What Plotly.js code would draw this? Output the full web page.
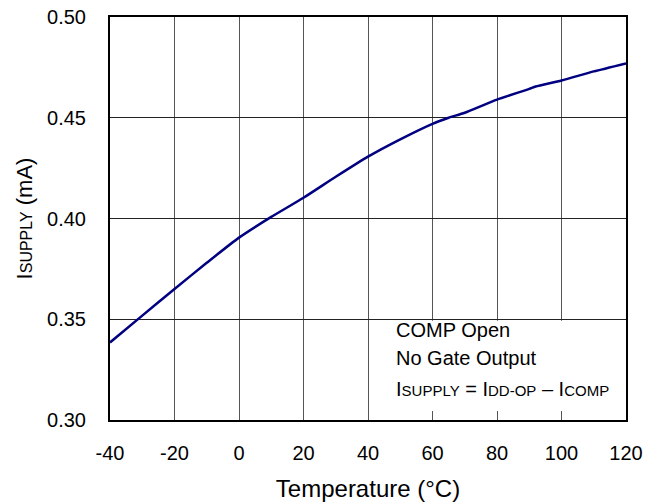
<!DOCTYPE html>
<html>
<head>
<meta charset="utf-8">
<script src="https://cdn.plot.ly/plotly-3.0.1.min.js"></script>
<style>html,body{margin:0;padding:0;background:#fff;}#chart{width:645px;height:502px;}</style>
</head>
<body>
<div id="chart"></div>
<script>
// Data
var temperature = [-40, -30, -20, -10, 0, 10, 20, 30, 40, 50, 60, 65, 70, 80, 90, 92, 100, 110, 120];
var supplyCurrent = [0.3385, 0.3518, 0.3650, 0.3780, 0.3905, 0.4008, 0.4103, 0.4207, 0.4307, 0.4393, 0.4470, 0.4500, 0.4525, 0.4590, 0.4643, 0.4655, 0.4685, 0.4730, 0.4770];
var xTicks = [-40, -20, 0, 20, 40, 60, 80, 100, 120];
var xTickLabels = ["-40", "-20", "0", "20", "40", "60", "80", "100", "120"];
var yTicks = [0.30, 0.35, 0.40, 0.45, 0.50];
var yTickLabels = ["0.30", "0.35", "0.40", "0.45", "0.50"];
var noteLines = ["COMP Open", "No Gate Output",
  "I<span style=\"font-size:15px\">SUPPLY</span> = I<span style=\"font-size:15px\">DD-OP</span> \u2013 I<span style=\"font-size:15px\">COMP</span>"];

var font = "Liberation Sans, Arial, sans-serif";

var trace = {
  x: temperature, y: supplyCurrent, type: "scatter", mode: "lines",
  line: {color: "#000080", width: 2.5, shape: "spline", smoothing: 0.6},
  hoverinfo: "skip", showlegend: false
};

var annotations = noteLines.map(function (t, i) {
  return {
    xref: "paper", yref: "paper", x: 0.55, y: [0.224, 0.155, 0.078][i],
    xanchor: "left", yanchor: "middle", text: t, showarrow: false,
    font: {family: font, size: 20, color: "#000"}
  };
});

var layout = {
  width: 645, height: 502,
  margin: {l: 110, r: 19, t: 17, b: 82},
  paper_bgcolor: "#fff", plot_bgcolor: "#fff",
  font: {family: font, color: "#000"},
  xaxis: {
    range: [-40, 120], tickvals: xTicks, ticktext: xTickLabels, ticks: "", showgrid: true,
    gridcolor: "#555", gridwidth: 1, zeroline: false,
    showline: true, linecolor: "#000", linewidth: 2, mirror: true,
    tickfont: {family: font, size: 20, color: "#000"}, ticklabelstandoff: 14,
    title: {text: "Temperature (\u00b0C)", font: {family: font, size: 24, color: "#000"}, standoff: 18}
  },
  yaxis: {
    range: [0.30, 0.50], tickvals: yTicks, ticktext: yTickLabels, ticks: "", showgrid: true,
    gridcolor: "#222", gridwidth: 1, zeroline: false,
    showline: true, linecolor: "#000", linewidth: 2, mirror: true,
    tickfont: {family: font, size: 20, color: "#000"}, ticklabelstandoff: 18,
    title: {text: "I<span style=\"font-size:16px\">SUPPLY</span> (mA)", font: {family: font, size: 22, color: "#000"}, standoff: 8}
  },
  shapes: [{
    type: "rect", layer: "between", xref: "x", yref: "y",
    x0: 41.5, x1: 119.5, y0: 0.3045, y1: 0.3493,
    fillcolor: "#fff", line: {width: 0}
  }],
  annotations: annotations
};

Plotly.newPlot("chart", [trace], layout, {displayModeBar: false, staticPlot: true});
</script>
</body>
</html>
